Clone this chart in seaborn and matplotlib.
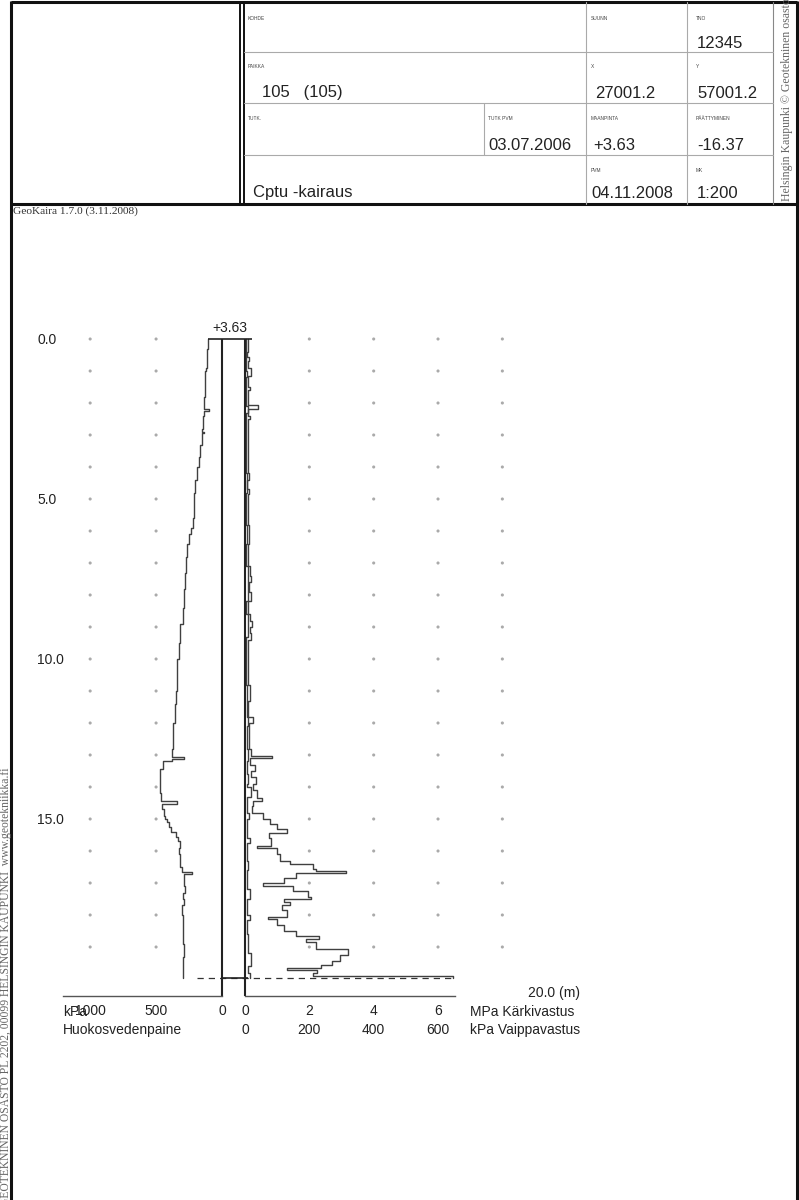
import numpy as np
import matplotlib
matplotlib.use("Agg")
import matplotlib.pyplot as plt
import matplotlib.transforms as mtransforms
import seaborn as sns

sns.set_theme(style="white")
plt.rcParams['font.family'] = ['Liberation Sans', 'DejaVu Sans']

# -------------------
# Data (read off the CPTU log)
# -------------------
ground_level = 3.63
end_level = -16.37
end_depth = ground_level - end_level   # 20.0 m

# pore water pressure u (kPa) vs depth (m)
u_depth = [0.00, 0.30, 0.55, 0.90, 1.00, 1.40, 1.80, 2.10, 2.18, 2.24, 2.40, 2.80, 2.90, 2.95,
           3.30, 3.70, 4.00, 4.40, 4.80, 5.20, 5.60, 5.90, 6.10, 6.40, 6.80, 7.20, 7.30, 7.80,
           8.40, 8.90, 9.20, 9.50, 10.00, 10.60, 11.00, 11.40, 12.00, 12.50, 12.80, 13.05, 13.12,
           13.20, 13.45, 13.80, 14.00, 14.20, 14.45, 14.52, 14.70, 14.90, 15.00, 15.10, 15.25,
           15.40, 15.55, 15.70, 15.90, 16.10, 16.30, 16.50, 16.65, 16.72, 16.90, 17.10, 17.30,
           17.50, 17.70, 18.00, 18.40, 18.90, 19.30, 19.85, 19.97]
u_kpa = [107, 110, 112, 118, 130, 128, 133, 138, 100, 140, 145, 150, 140, 155,
         168, 175, 190, 205, 210, 215, 222, 235, 250, 265, 270, 275, 283, 290,
         298, 318, 322, 328, 340, 343, 348, 360, 372, 374, 376, 290, 378,
         450, 468, 473, 470, 462, 340, 455, 440, 430, 415, 400, 385,
         350, 335, 320, 325, 315, 320, 300, 230, 285, 290, 280, 295,
         285, 300, 296, 298, 292, 298, 296, 296]

# cone resistance qc (MPa) vs depth (m)
qc_depth = [0.00, 0.40, 0.55, 0.70, 0.90, 1.15, 1.50, 1.60, 2.05, 2.20, 2.40, 2.50, 3.00, 4.20,
            4.40, 4.70, 4.85, 5.80, 6.40, 7.10, 7.40, 7.60, 7.90, 8.20, 8.60, 8.80, 9.00, 9.20,
            9.40, 10.80, 11.30, 11.80, 12.00, 12.80, 13.02, 13.08, 13.30, 13.50, 13.70, 13.90,
            14.10, 14.35, 14.45, 14.60, 14.80, 15.00, 15.15, 15.30, 15.45, 15.60, 15.85, 15.92,
            16.10, 16.30, 16.40, 16.55, 16.62, 16.68, 16.85, 17.00, 17.08, 17.25, 17.45, 17.50,
            17.60, 17.70, 17.85, 18.05, 18.12, 18.30, 18.50, 18.65, 18.75, 18.85, 19.05, 19.25,
            19.45, 19.55, 19.65, 19.72, 19.80, 19.90, 19.97]
qc_mpa = [0.10, 0.06, 0.12, 0.08, 0.18, 0.10, 0.14, 0.08, 0.40, 0.10, 0.16, 0.08, 0.10, 0.12,
          0.06, 0.12, 0.08, 0.12, 0.08, 0.14, 0.18, 0.12, 0.18, 0.10, 0.16, 0.22, 0.14, 0.20,
          0.10, 0.16, 0.10, 0.25, 0.12, 0.20, 0.84, 0.16, 0.30, 0.20, 0.35, 0.25,
          0.38, 0.53, 0.25, 0.22, 0.55, 0.78, 1.00, 1.30, 0.75, 0.80, 0.37, 1.00,
          1.10, 1.40, 2.10, 2.20, 3.15, 1.60, 1.20, 0.55, 1.50, 1.95, 2.05, 1.20,
          1.40, 1.15, 1.30, 0.70, 1.00, 1.20, 1.60, 2.30, 1.90, 2.20, 3.20, 2.95,
          2.70, 2.35, 1.30, 2.25, 2.10, 6.46, 6.46]

# sleeve friction fs (kPa) vs depth (m)
fs_depth = [0.00, 1.00, 1.20, 2.10, 2.30, 4.20, 4.80, 5.80, 6.40, 7.10, 8.20, 8.60, 9.30, 10.80,
            11.30, 11.80, 12.10, 12.80, 13.20, 13.60, 13.90, 14.00, 14.30, 14.80, 15.00, 15.60,
            15.75, 16.30, 16.60, 17.20, 17.50, 18.00, 18.15, 18.60, 19.20, 19.60, 19.80, 19.97]
fs_kpa = [4, 6, 4, 8, 4, 6, 4, 7, 4, 8, 4, 8, 4, 7,
          5, 9, 5, 8, 6, 10, 6, 18, 7, 12, 6, 15,
          6, 8, 5, 14, 6, 16, 6, 10, 18, 8, 15, 15]

depth_ticks = [0, 5, 10, 15]
u_ticks = [1000, 500, 0]
qc_ticks = [0, 2, 4, 6]
fs_tick_labels = ["0", "200", "400", "600"]
dot_depths = list(range(20))
dot_u = [1000, 500]
dot_qc = [2, 4, 6, 8]

header_labels = [("KOHDE", 248, 18), ("SUUNN", 591, 18), ("TNO", 696, 18),
                 ("PAIKKA", 248, 67), ("X", 591, 67), ("Y", 696, 67),
                 ("TUTK.", 248, 118), ("TUTK PVM", 488, 118), ("MAANPINTA", 591, 118),
                 ("PÄÄTTYMINEN", 696, 118), ("PVM", 591, 170), ("MK", 696, 170)]
header_values = [("12345", 697, 43), ("105   (105)", 262, 93), ("27001.2", 595, 93),
                 ("57001.2", 697, 93), ("03.07.2006", 488, 145), ("%+.2f" % ground_level, 593, 146),
                 ("%.2f" % end_level, 697, 146), ("Cptu -kairaus", 253, 193),
                 ("04.11.2008", 591, 193), ("1:200", 697, 193)]

# -------------------
# Figure / page frame
# -------------------
W, H = 799, 1200
fig = plt.figure(figsize=(W / 100, H / 100), dpi=100)
fig.patch.set_facecolor("white")
bg = fig.add_axes([0, 0, 1, 1])
bg.set_xlim(0, W)
bg.set_ylim(H, 0)
bg.axis("off")

frame = dict(color="#111111", lw=2.2, solid_capstyle="butt")
bg.plot([11, 11], [1, 1200], **frame)
bg.plot([11, 797], [2, 2], **frame)
bg.plot([797, 797], [1, 1200], **frame)
bg.plot([11, 797], [204, 204], **frame)
bg.plot([240, 240], [2, 204], color="#111111", lw=1.4)
bg.plot([244, 244], [2, 204], color="#111111", lw=1.4)
bg.plot([773, 773], [2, 204], color="#888888", lw=0.8)
thin = dict(color="#aaaaaa", lw=0.8)
for yy in [52, 103, 155]:
    bg.plot([244, 773], [yy, yy], **thin)
bg.plot([586, 586], [2, 204], **thin)
bg.plot([687, 687], [2, 204], **thin)
bg.plot([484, 484], [103, 155], **thin)

for txt, x, y in header_labels:
    bg.text(x, y, txt, fontsize=3.5, color="#444444", va="center", ha="left")
for txt, x, y in header_values:
    bg.text(x, y, txt, fontsize=12, color="#222222", va="center", ha="left")

bg.text(13, 211, "GeoKaira 1.7.0 (3.11.2008)", fontsize=8.2, family="Liberation Serif",
        color="#333333", va="center", ha="left")
bg.text(6, 1206, "GEOTEKNINEN OSASTO PL 2202, 00099 HELSINGIN KAUPUNKI  www.geotekniikka.fi",
        fontsize=8.4, family="Liberation Serif", color="#666666", rotation=90,
        rotation_mode="anchor", ha="left", va="center")
bg.text(787, 201, "Helsingin Kaupunki © Geotekninen osasto", fontsize=8.5,
        family="Liberation Serif", color="#666666", rotation=90,
        rotation_mode="anchor", ha="left", va="center")

# -------------------
# Plot axes (pixel placement)
# -------------------
px_per_m = 32.0
y_zero = 339
y_axis = 996
d_top = -1.0
d_bot = (y_axis - y_zero) / px_per_m


def px_axes(x0, x1):
    y0 = y_zero + d_top * px_per_m
    return fig.add_axes([x0 / W, 1 - y_axis / H, (x1 - x0) / W, (y_axis - y0) / H])


axl = px_axes(63, 222)
axr = px_axes(245, 455)
axl.set_xlim(1206, 0)
axr.set_xlim(0, (455 - 245) / 32.17)
for ax in (axl, axr):
    ax.set_ylim(d_bot, d_top)
    ax.patch.set_alpha(0)
    for s in ["top", "left", "right"]:
        ax.spines[s].set_visible(False)
    ax.spines["bottom"].set_color("#555555")
    ax.spines["bottom"].set_linewidth(1.0)
    ax.tick_params(axis="x", direction="in", length=4, width=0.8, color="#555555",
                   labelsize=10, labelcolor="#222222", pad=6)

# grid dots
gu_x, gu_y = np.meshgrid(dot_u, dot_depths)
gq_x, gq_y = np.meshgrid(dot_qc, dot_depths)
sns.scatterplot(x=gu_x.ravel(), y=gu_y.ravel(), ax=axl, s=5, color="#aaaaaa",
                edgecolor="none", clip_on=False, legend=False)
sns.scatterplot(x=gq_x.ravel(), y=gq_y.ravel(), ax=axr, s=5, color="#aaaaaa",
                edgecolor="none", clip_on=False, legend=False)

# traces
trace = dict(orient="y", sort=False, estimator=None, drawstyle="steps-pre",
             color="#404040", linewidth=1.0, legend=False)
sns.lineplot(x=u_kpa, y=u_depth, ax=axl, **trace)
sns.lineplot(x=qc_mpa, y=qc_depth, ax=axr, **trace)
sns.lineplot(x=[v / 100 for v in fs_kpa], y=fs_depth, ax=axr, **trace)

for ax in (axl, axr):
    ax.set_xlabel("")
    ax.set_ylabel("")
    ax.set_ylim(d_bot, d_top)

axl.set_xlim(1206, 0)
axr.set_xlim(0, (455 - 245) / 32.17)
axl.set_xticks(u_ticks)
axl.set_xticklabels([str(t) for t in u_ticks])
axr.set_xticks(qc_ticks)
axr.set_xticklabels([str(t) for t in qc_ticks])
axl.set_yticks(depth_ticks)
axl.set_yticklabels(["%.1f" % d for d in depth_ticks], ha="left")
axl.tick_params(axis="y", length=0, labelsize=10, labelcolor="#222222", pad=18.7)
axr.set_yticks([])

# probe column lines, ground level and end of sounding
axl.vlines(0, 0, d_bot, color="#222222", lw=1.5, clip_on=False)
axr.vlines(0, 0, d_bot, color="#222222", lw=1.5, clip_on=False)
axr.hlines(0, -1.15, 0.22, color="#222222", lw=1.2, clip_on=False)
axr.text(-0.47, -0.12, "%+.2f" % ground_level, ha="center", va="bottom", fontsize=10,
         color="#222222", clip_on=False)
axr.hlines(end_depth - 0.03, -1.5, 6.46, color="#333333", lw=0.9, linestyles=(0, (5, 4)),
           clip_on=False)
axr.hlines(end_depth - 0.03, -0.75, 0.1, color="#222222", lw=1.2, clip_on=False)
axr.text(8.8, 20.45, "%.1f (m)" % end_depth, ha="left", va="center", fontsize=10,
         color="#222222", clip_on=False)

# axis captions
row1, row2 = 1012, 1030
tr_r = mtransforms.blended_transform_factory(axr.transData, bg.transData)
for q, lab in zip(qc_ticks, fs_tick_labels):
    axr.text(q, row2, lab, transform=tr_r, ha="center", va="center", fontsize=10,
             color="#222222")
bg.text(63, row1, "kPa", ha="left", va="center", fontsize=10, color="#222222")
bg.text(63, row2, "Huokosvedenpaine", ha="left", va="center", fontsize=10, color="#222222")
bg.text(470, row1, "MPa Kärkivastus", ha="left", va="center", fontsize=10, color="#222222")
bg.text(470, row2, "kPa Vaippavastus", ha="left", va="center", fontsize=10, color="#222222")

fig.savefig("out.png", dpi=100, facecolor="white")
